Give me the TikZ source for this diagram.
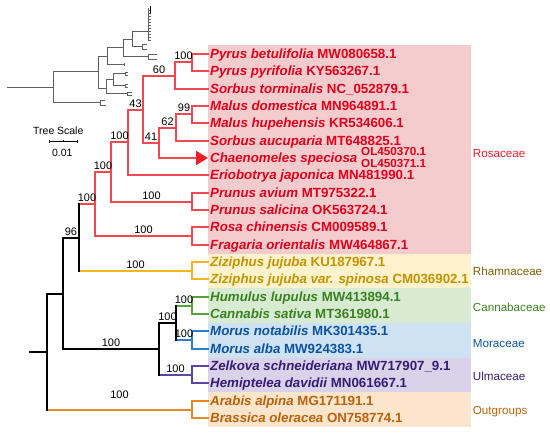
\documentclass[tikz,border=0pt]{standalone}
\usepackage{fontspec}
\setmainfont{Liberation Sans}
\usetikzlibrary{arrows.meta}
\definecolor{rosT}{RGB}{224,0,27}
\definecolor{rosB}{RGB}{244,204,206}
\definecolor{rosL}{RGB}{238,72,82}
\definecolor{rosF}{RGB}{236,30,40}
\definecolor{rhaT}{RGB}{196,148,0}
\definecolor{rhaB}{RGB}{255,242,204}
\definecolor{rhaL}{RGB}{246,180,30}
\definecolor{rhaF}{RGB}{127,96,0}
\definecolor{canT}{RGB}{56,130,29}
\definecolor{canB}{RGB}{217,234,211}
\definecolor{canL}{RGB}{90,160,60}
\definecolor{morT}{RGB}{11,83,160}
\definecolor{morB}{RGB}{207,226,243}
\definecolor{morL}{RGB}{50,125,200}
\definecolor{ulmT}{RGB}{53,28,117}
\definecolor{ulmB}{RGB}{217,210,233}
\definecolor{ulmL}{RGB}{95,68,165}
\definecolor{outT}{RGB}{190,98,10}
\definecolor{outB}{RGB}{252,229,205}
\definecolor{outL}{RGB}{232,135,40}
\definecolor{inset}{RGB}{95,95,95}
\begin{document}
\begin{tikzpicture}[x=1bp,y=-1bp,
  leaf/.style={anchor=base west, inner sep=0pt, font=\fontsize{13.35}{16}\selectfont\bfseries},
  fam/.style={anchor=base west, inner sep=0pt, font=\fontsize{11.7}{14}\selectfont},
  sup/.style={above=1.5bp, inner sep=0pt, font=\fontsize{11}{13}\selectfont, text=black},
  br/.style={line width=2bp, line cap=rect},
  bk/.style={line width=2bp, line cap=rect, draw=black},
  ins/.style={draw=inset, line width=1bp}]
\useasboundingbox (0,0) rectangle (550,437);
% family boxes
\fill[rosB] (208,45) rectangle (471,254);
\fill[rhaB] (208,254) rectangle (471,288);
\fill[canB] (208,288) rectangle (471,323);
\fill[morB] (208,323) rectangle (471,358);
\fill[ulmB] (208,358) rectangle (471,392);
\fill[outB] (208,392) rectangle (471,427);
% leaf tips
\foreach \i/\yy in {0/54,1/71,2/89,3/106,4/123,5/141,6/158,7/175,8/193,9/210,10/227,
  11/245,12/262,13/279,14/297,15/314,16/331,17/349,18/366,19/383,20/401,21/418}
  \coordinate (L\i) at (208,\yy);
% internal nodes
\coordinate (nPy) at (192,62);
\coordinate (n60) at (175,76);
\coordinate (nMa) at (192,114);
\coordinate (n62) at (176,128);
\coordinate (n41) at (159,143);
\coordinate (n43) at (143,110);
\coordinate (nA) at (128,142);
\coordinate (nPr) at (192,202);
\coordinate (nB) at (111,172);
\coordinate (nRo) at (192,236);
\coordinate (nR) at (95,204);
\coordinate (nZ) at (192,271);
\coordinate (n96) at (79,238);
\coordinate (nC) at (192,306);
\coordinate (nM) at (192,340);
\coordinate (nU2) at (192,375);
\coordinate (nO) at (192,410);
\coordinate (nCM) at (176,323);
\coordinate (nU) at (159,349);
\coordinate (n2) at (63,294);
\coordinate (root) at (47,352);
\coordinate (stub) at (30,352);
% Rosaceae branches
\begin{scope}[br, draw=rosL]
\draw (nPy|-L0)--(nPy|-L1) (nPy|-L0)--(L0) (nPy|-L1)--(L1);
\draw (n60|-nPy)--(n60|-L2) (n60|-L2)--(L2);
\draw (n60|-nPy)--node[sup]{100}(nPy);
\draw (nMa|-L3)--(nMa|-L4) (nMa|-L3)--(L3) (nMa|-L4)--(L4);
\draw (n62|-nMa)--(n62|-L5) (n62|-L5)--(L5);
\draw (n62|-nMa)--node[sup]{99}(nMa);
\draw (n41|-n62)--(n41|-L6);
\draw (n41|-n62)--node[sup]{62}(n62);
\draw[-{Triangle[length=12bp,width=14bp,color=rosF,fill=rosF]}] (n41|-L6)--(L6);
\draw (n43|-n60)--(n43|-n41);
\draw (n43|-n60)--node[sup]{60}(n60);
\draw (n43|-n41)--node[sup]{41}(n41);
\draw (nA|-n43)--(nA|-L7);
\draw (nA|-L7)--(L7);
\draw (nA|-n43)--node[sup]{43}(n43);
\draw (nPr|-L8)--(nPr|-L9) (nPr|-L8)--(L8) (nPr|-L9)--(L9);
\draw (nB|-nA)--(nB|-nPr);
\draw (nB|-nA)--node[sup]{100}(nA);
\draw (nB|-nPr)--node[sup]{100}(nPr);
\draw (nRo|-L10)--(nRo|-L11) (nRo|-L10)--(L10) (nRo|-L11)--(L11);
\draw (nR|-nB)--(nR|-nRo);
\draw (nR|-nB)--node[sup]{100}(nB);
\draw (nR|-nRo)--node[sup]{100}(nRo);
\draw (n96|-nR)--node[sup]{100}(nR);
\end{scope}
% Rhamnaceae
\begin{scope}[br, draw=rhaL]
\draw (nZ|-L12)--(nZ|-L13) (nZ|-L12)--(L12) (nZ|-L13)--(L13);
\draw (n96|-nZ)--node[sup]{100}(nZ);
\end{scope}
% Cannabaceae
\begin{scope}[br, draw=canL]
\draw (nC|-L14)--(nC|-L15) (nC|-L14)--(L14) (nC|-L15)--(L15);
\draw (nCM|-nC)--node[sup]{100}(nC);
\end{scope}
% Moraceae
\begin{scope}[br, draw=morL]
\draw (nM|-L16)--(nM|-L17) (nM|-L16)--(L16) (nM|-L17)--(L17);
\draw (nCM|-nM)--node[sup]{100}(nM);
\end{scope}
% Ulmaceae
\begin{scope}[br, draw=ulmL]
\draw (nU2|-L18)--(nU2|-L19) (nU2|-L18)--(L18) (nU2|-L19)--(L19);
\draw (nU|-nU2)--node[sup]{100}(nU2);
\end{scope}
% Outgroups
\begin{scope}[br, draw=outL]
\draw (nO|-L20)--(nO|-L21) (nO|-L20)--(L20) (nO|-L21)--(L21);
\draw (root|-nO)--node[sup, above=9bp]{100}(nO);
\end{scope}
% black backbone
\draw[bk] (n96|-nR)--(n96|-nZ);
\draw[bk] (nCM|-nC)--(nCM|-nM);
\draw[bk] (nU|-nCM)--(nU|-nU2);
\draw[bk] (nU|-nCM)--node[sup]{100}(nCM);
\draw[bk] (n2|-n96)--(n2|-nU);
\draw[bk] (n2|-n96)--node[sup]{96}(n96);
\draw[bk] (n2|-nU)--node[sup]{100}(nU);
\draw[bk] (root|-n2)--(root|-nO);
\draw[bk] (root|-n2)--(n2);
\draw[bk] (stub)--(root);
% leaf labels
\node[leaf,text=rosT] (t0) at ([xshift=2bp,yshift=-4.8bp]L0) {\textit{Pyrus betulifolia} MW080658.1};
\node[leaf,text=rosT] (t1) at ([xshift=2bp,yshift=-4.8bp]L1) {\textit{Pyrus pyrifolia} KY563267.1};
\node[leaf,text=rosT] (t2) at ([xshift=2bp,yshift=-4.8bp]L2) {\textit{Sorbus torminalis} NC\_052879.1};
\node[leaf,text=rosT] (t3) at ([xshift=2bp,yshift=-4.8bp]L3) {\textit{Malus domestica} MN964891.1};
\node[leaf,text=rosT] (t4) at ([xshift=2bp,yshift=-4.8bp]L4) {\textit{Malus hupehensis} KR534606.1};
\node[leaf,text=rosT] (t5) at ([xshift=2bp,yshift=-4.8bp]L5) {\textit{Sorbus aucuparia} MT648825.1};
\node[leaf,text=rosT] (t6) at ([xshift=2bp,yshift=-4.8bp]L6) {\textit{Chaenomeles speciosa}};
\node[anchor=base west, inner sep=0pt, align=left, text=rosT, font=\fontsize{11.7}{11.6}\selectfont\bfseries] (t6b) at ([xshift=3.5bp,yshift=-4.7bp]t6.base east) {OL450370.1\\OL450371.1};
\node[leaf,text=rosT] (t7) at ([xshift=2bp,yshift=-4.8bp]L7) {\textit{Eriobotrya japonica} MN481990.1};
\node[leaf,text=rosT] (t8) at ([xshift=2bp,yshift=-4.8bp]L8) {\textit{Prunus avium} MT975322.1};
\node[leaf,text=rosT] (t9) at ([xshift=2bp,yshift=-4.8bp]L9) {\textit{Prunus salicina} OK563724.1};
\node[leaf,text=rosT] (t10) at ([xshift=2bp,yshift=-4.8bp]L10) {\textit{Rosa chinensis} CM009589.1};
\node[leaf,text=rosT] (t11) at ([xshift=2bp,yshift=-4.8bp]L11) {\textit{Fragaria orientalis} MW464867.1};
\node[leaf,text=rhaT] (t12) at ([xshift=2bp,yshift=-4.8bp]L12) {\textit{Ziziphus jujuba} KU187967.1};
\node[leaf,text=rhaT] (t13) at ([xshift=2bp,yshift=-4.8bp]L13) {\textit{Ziziphus jujuba var. spinosa} CM036902.1};
\node[leaf,text=canT] (t14) at ([xshift=2bp,yshift=-4.8bp]L14) {\textit{Humulus lupulus} MW413894.1};
\node[leaf,text=canT] (t15) at ([xshift=2bp,yshift=-4.8bp]L15) {\textit{Cannabis sativa} MT361980.1};
\node[leaf,text=morT] (t16) at ([xshift=2bp,yshift=-4.8bp]L16) {\textit{Morus notabilis} MK301435.1};
\node[leaf,text=morT] (t17) at ([xshift=2bp,yshift=-4.8bp]L17) {\textit{Morus alba} MW924383.1};
\node[leaf,text=ulmT] (t18) at ([xshift=2bp,yshift=-4.8bp]L18) {\textit{Zelkova schneideriana} MW717907\_9.1};
\node[leaf,text=ulmT] (t19) at ([xshift=2bp,yshift=-4.8bp]L19) {\textit{Hemiptelea davidii} MN061667.1};
\node[leaf,text=outT] (t20) at ([xshift=2bp,yshift=-4.8bp]L20) {\textit{Arabis alpina} MG171191.1};
\node[leaf,text=outT] (t21) at ([xshift=2bp,yshift=-4.8bp]L21) {\textit{Brassica oleracea} ON758774.1};
% family labels
\node[fam,text=rosF] (fRos) at (472.7,157.5) {Rosaceae};
\node[fam,text=rhaF] (fRha) at (472.7,275.5) {Rhamnaceae};
\node[fam,text=canT] (fCan) at (472.7,311) {Cannabaceae};
\node[fam,text=morT] (fMor) at (472.7,347) {Moraceae};
\node[fam,text=ulmT] (fUlm) at (472.7,380.5) {Ulmaceae};
\node[fam,text=outT] (fOut) at (472.7,414.5) {Outgroups};
% inset overview tree
\draw[ins] (7,88)--(53,88) (53,72)--(53,103) (53,103)--(100,103)
  (100,100.5)--(100,105.5) (100,100.5)--(105,100.5) (100,105.5)--(106,105.5)
  (53,72)--(98,72) (98,57)--(98,89)
  (98,57)--(107,57) (107,48)--(107,65) (107,65)--(124,65) (124,63.5)--(124,66.5)
  (107,48)--(123,48) (123,40)--(123,57) (123,57)--(148,57)
  (148,54.5)--(148,59.5) (148,54.5)--(157,54.5) (148,59.5)--(157,59.5)
  (123,40)--(132,40) (132,32)--(132,47) (132,47)--(142,47)
  (142,44.5)--(142,49.5) (142,44.5)--(147,44.5) (142,49.5)--(147,49.5)
  (132,32)--(148,32) (148,8)--(148,40)
  (98,89)--(106,89) (106,80)--(106,94) (106,80)--(113,80) (113,74)--(113,86)
  (113,74)--(125,74) (125,72.5)--(125,75.5) (125,72.5)--(128,72.5) (125,75.5)--(128,75.5)
  (113,86)--(125,86) (125,84.5)--(125,87.5) (125,84.5)--(128,84.5) (125,87.5)--(128,87.5)
  (106,94)--(127,94) (127,92.5)--(127,95.5) (127,92.5)--(132,92.5) (127,95.5)--(132,95.5);
\foreach \yy in {10,13,16,19,22,25,28,31,34,37,40} \draw[ins, line width=0.6bp] (148,\yy)--(151,\yy);
\draw[black, line width=0.8bp] (150.5,6)--(150.5,14);
% scale
\node[inner sep=0pt, font=\fontsize{10.5}{12}\selectfont] (tscale) at (58.3,130.7) {Tree Scale};
\coordinate (sa) at (49,141.5);
\coordinate (sb) at (77,141.5);
\draw[line width=1bp] (sa)--(sb) ([yshift=1.8bp]sa)--([yshift=-1.8bp]sa) ([yshift=1.8bp]sb)--([yshift=-1.8bp]sb);
\draw[line width=0.6bp] (63,141.5)--(63,140);
\node[inner sep=0pt, font=\fontsize{10.5}{12}\selectfont] (tval) at (62.3,152.7) {0.01};
\end{tikzpicture}
\end{document}
